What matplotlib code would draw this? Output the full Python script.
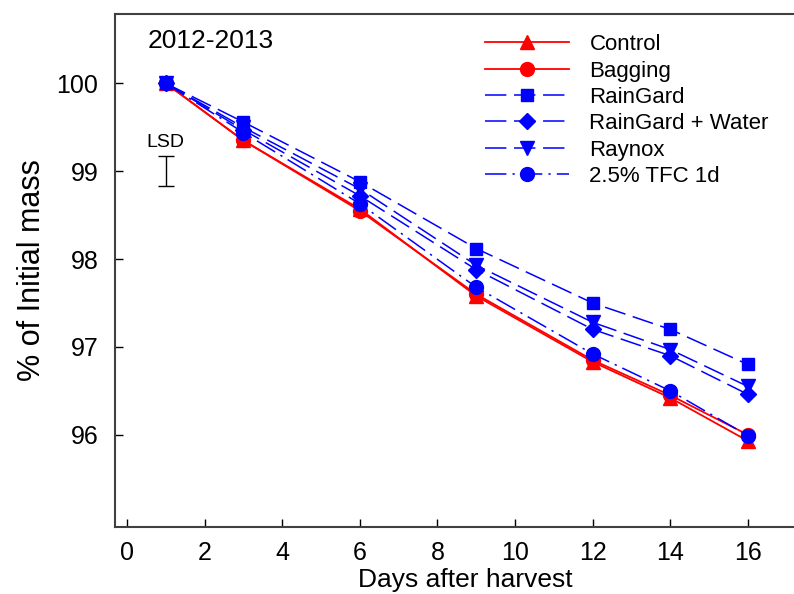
import matplotlib.pyplot as plt

plt.rcParams['font.family'] = ['Liberation Sans', 'DejaVu Sans']

days = [1, 3, 6, 9, 12, 14, 16]
control = [100, 99.35, 98.57, 97.58, 96.83, 96.42, 95.93]
bagging = [100, 99.35, 98.55, 97.60, 96.85, 96.45, 96.00]
raingard = [100, 99.56, 98.88, 98.12, 97.50, 97.20, 96.80]
raingard_water = [100, 99.47, 98.72, 97.88, 97.20, 96.90, 96.46]
raynox = [100, 99.50, 98.80, 97.93, 97.28, 96.97, 96.55]
tfc = [100, 99.44, 98.63, 97.68, 96.92, 96.50, 95.99]

lsd_day = 1
lsd_center = 99.0
lsd_half = 0.17

fig = plt.figure(figsize=(7.94, 5.94), dpi=100)
ax = fig.add_axes([115/794, 67/594, 700/794, 513/594])

red = '#ff0000'
blue = '#0000ff'
dash = (14, 5)
ax.plot(days, control, color=red, lw=1.3, marker='^', ms=10, label='Control')
ax.plot(days, bagging, color=red, lw=1.3, marker='o', ms=10, label='Bagging')
ax.plot(days, raingard, color=blue, lw=1.1, dashes=dash, marker='s', ms=9, label='RainGard')
ax.plot(days, raingard_water, color=blue, lw=1.1, dashes=dash, marker='D', ms=8, label='RainGard + Water')
ax.plot(days, raynox, color=blue, lw=1.1, dashes=dash, marker='v', ms=10, label='Raynox')
ax.plot(days, tfc, color=blue, lw=1.1, dashes=(14, 4, 1.5, 4), marker='o', ms=10, label='2.5% TFC 1d')

# LSD bar
ax.errorbar([lsd_day], [lsd_center], yerr=[lsd_half], color='black', lw=1, capsize=5.5, capthick=1)
ax.text(lsd_day, lsd_center + lsd_half + 0.06, 'LSD', ha='center', va='bottom', fontsize=14)

ax.set_xlim(-0.31, 17.73)
ax.set_ylim(94.95, 100.79)
ax.set_xticks(range(0, 17, 2))
ax.set_yticks([96, 97, 98, 99, 100])
ax.tick_params(direction='in', length=6, width=1, labelsize=18, pad=12)
ax.tick_params(axis='x', pad=10)
for side in ['left', 'bottom', 'top']:
    ax.spines[side].set_linewidth(1.5)
    ax.spines[side].set_color('#404040')
ax.spines['right'].set_visible(False)

ax.set_xlabel('Days after harvest', fontsize=19, labelpad=2)
ax.set_ylabel('% of Initial mass', fontsize=22, labelpad=7)
ax.text(0.046, 0.97, '2012-2013', transform=ax.transAxes, fontsize=19, va='top')

ax.legend(loc='upper left', bbox_to_anchor=(465/794, 0.976),
          bbox_transform=fig.transFigure, frameon=False, fontsize=16,
          handlelength=3.8, handletextpad=0.9, labelspacing=0.24)

fig.savefig('out.png', dpi=100)
